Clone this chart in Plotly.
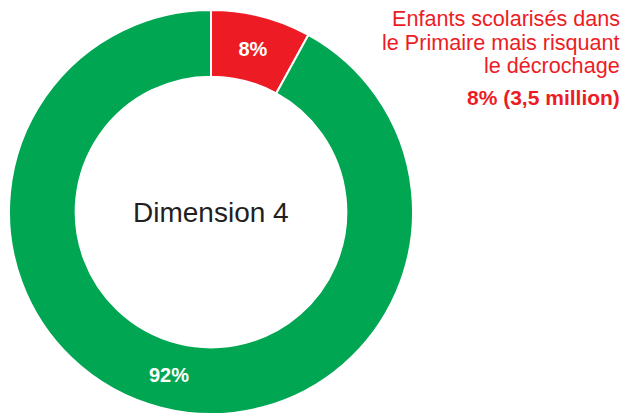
import plotly.graph_objects as go

labels = ["Enfants scolarisés dans le Primaire mais risquant le décrochage", "Autres"]
values = [8, 92]
slice_text = ["8%", "92%"]
colors = ["#ED1C24", "#00A651"]
center_label = "Dimension 4"
side_lines = ["Enfants scolarisés dans", "le Primaire mais risquant", "le décrochage"]
side_value = "8% (3,5 million)"

W, H = 629, 414
fig = go.Figure()
fig.add_trace(go.Pie(
    labels=labels, values=values, text=slice_text,
    textinfo="text", textposition="inside", insidetextorientation="horizontal",
    textfont=dict(family="Liberation Sans", size=20, color="white", weight="bold"),
    marker=dict(colors=colors, line=dict(color="white", width=2)),
    hole=0.67, sort=False, direction="clockwise", rotation=0,
    domain=dict(x=[8 / W, 414 / W], y=[0, 404 / H]),
    showlegend=False, hoverinfo="skip",
))

fig.add_annotation(x=211 / W, y=1 - 213 / H, xref="paper", yref="paper",
                   text=center_label, showarrow=False, xanchor="center", yanchor="middle",
                   font=dict(family="Liberation Sans", size=28, color="#231F20"))

ys = [19, 42, 65]
for t, yy in zip(side_lines, ys):
    fig.add_annotation(x=622 / W, y=1 - yy / H, xref="paper", yref="paper", text=t,
                       showarrow=False, xanchor="right", yanchor="middle",
                       font=dict(family="Liberation Sans", size=21.6, color="#ED1C24"))
fig.add_annotation(x=622 / W, y=1 - 97 / H, xref="paper", yref="paper", text="<b>" + side_value + "</b>",
                   showarrow=False, xanchor="right", yanchor="middle",
                   font=dict(family="Liberation Sans", size=21, color="#ED1C24"))

fig.update_layout(width=W, height=H, margin=dict(l=0, r=0, t=0, b=0),
                  paper_bgcolor="white", plot_bgcolor="white")
fig.write_html("out.html", config={"displayModeBar": False},
               post_script="document.body.style.margin='0';")
